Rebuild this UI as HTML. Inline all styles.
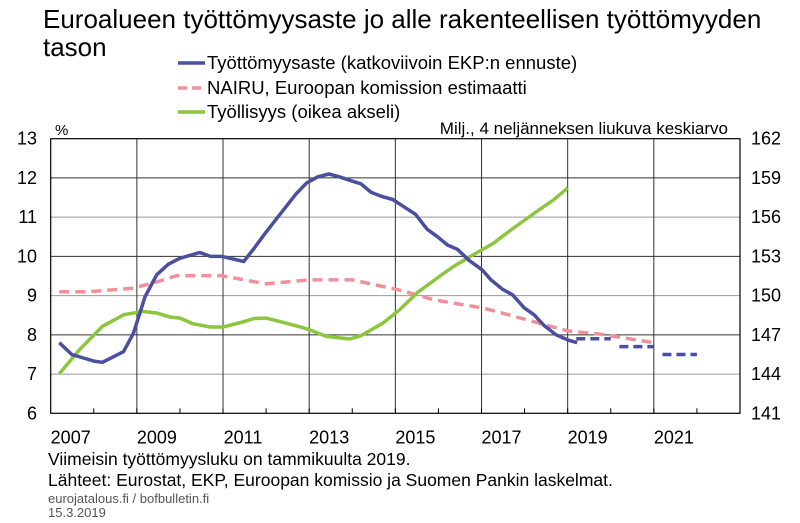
<!DOCTYPE html>
<html><head><meta charset="utf-8">
<style>
body{margin:0;background:#fff;}
svg{display:block;font-family:"Liberation Sans",Arial,sans-serif;}
</style></head>
<body>
<svg id="chart" width="800" height="523" viewBox="0 0 800 523">
<text x="43" y="28" font-size="26" fill="#000">Euroalueen työttömyysaste jo alle rakenteellisen työttömyyden</text>
<text x="43" y="56" font-size="26" fill="#000">tason</text>
<g>
<line x1="178" y1="63" x2="205" y2="63" stroke="#4a4fa0" stroke-width="3.5"/>
<text x="207" y="69" font-size="18.5">Työttömyysaste (katkoviivoin EKP:n ennuste)</text>
<line x1="178" y1="88" x2="205" y2="88" stroke="#f0909a" stroke-width="3.5" stroke-dasharray="9,5"/>
<text x="207" y="94" font-size="18.5">NAIRU, Euroopan komission estimaatti</text>
<line x1="178" y1="112" x2="205" y2="112" stroke="#8cc63f" stroke-width="3.5"/>
<text x="207" y="118" font-size="18.5">Työllisyys (oikea akseli)</text>
</g>
<text x="55" y="135" font-size="15">%</text>
<text x="728" y="134" font-size="17" text-anchor="end">Milj., 4 neljänneksen liukuva keskiarvo</text>
<g id="grid"></g>
<g id="axes"></g>
<g id="series"></g>
<text x="48" y="465" font-size="17.5">Viimeisin työttömyysluku on tammikuulta 2019.</text>
<text x="48" y="486" font-size="17.5">Lähteet: Eurostat, EKP, Euroopan komissio ja Suomen Pankin laskelmat.</text>
<text x="48" y="503" font-size="13" fill="#555">eurojatalous.fi / bofbulletin.fi</text>
<text x="48" y="517" font-size="13" fill="#555">15.3.2019</text>
</svg>
<script>
const leftTicks=[6,7,8,9,10,11,12,13];
const rightTicks=[141,144,147,150,153,156,159,162];
const yearLabels=[2007,2009,2011,2013,2015,2017,2019,2021];
const unempX=[2007.2,2007.49,2007.76,2008.0,2008.2,2008.69,2008.92,2009.19,2009.46,2009.73,2010.0,2010.46,2010.71,2010.98,2011.48,2011.72,2011.95,2012.2,2012.47,2012.7,2012.94,2013.2,2013.46,2013.7,2013.94,2014.2,2014.44,2014.71,2014.94,2015.12,2015.47,2015.74,2015.98,2016.21,2016.44,2016.71,2017.02,2017.22,2017.49,2017.72,2017.99,2018.22,2018.46,2018.73,2019.0,2019.22];
const unempY=[7.8,7.5,7.41,7.33,7.3,7.57,8.04,8.97,9.53,9.8,9.95,10.1,10.0,10.0,9.87,10.2,10.55,10.9,11.28,11.6,11.87,12.03,12.1,12.03,11.94,11.85,11.63,11.52,11.45,11.32,11.07,10.69,10.5,10.29,10.18,9.9,9.65,9.4,9.16,9.02,8.69,8.51,8.23,8.0,7.87,7.8];
const forecastStart=[2019.2,2020.2,2021.2];
const forecastEnd=[2020.0,2021.0,2022.0];
const forecastVal=[7.9,7.7,7.5];
const nairuX=[2007.2,2007.9,2008.92,2009.46,2009.93,2010.95,2012.0,2013.0,2014.0,2015.1,2015.9,2017.06,2018.2,2019.0,2019.75,2021.0];
const nairuY=[9.1,9.1,9.19,9.35,9.51,9.51,9.3,9.4,9.4,9.14,8.89,8.68,8.34,8.1,8.02,7.8];
const emplX=[2007.2,2007.67,2008.2,2008.7,2009.13,2009.46,2009.77,2010.0,2010.3,2010.7,2011.0,2011.42,2011.72,2012.0,2012.4,2012.8,2013.0,2013.4,2013.94,2014.2,2014.71,2015.1,2015.5,2016.02,2016.35,2016.74,2017.28,2017.74,2018.28,2018.67,2019.0];
const emplY=[144.03,145.87,147.65,148.54,148.79,148.67,148.36,148.28,147.85,147.6,147.6,147.95,148.25,148.28,147.95,147.6,147.39,146.88,146.68,146.93,147.9,148.92,150.2,151.46,152.23,152.99,154.01,155.16,156.43,157.32,158.24];

const L=50.7,R=740,T=138.7,B=413.3;
const x=yr=>L+(yr-2007)*(R-L)/16;
const yL=v=>B-(v-6)*(B-T)/7;
const yR=v=>B-(v-141)*(B-T)/21;
const NS='http://www.w3.org/2000/svg';
function mk(tag,attrs,parent){const e=document.createElementNS(NS,tag);for(const k in attrs)e.setAttribute(k,attrs[k]);parent.appendChild(e);return e;}
const grid=document.getElementById('grid'),axes=document.getElementById('axes'),ser=document.getElementById('series');
leftTicks.forEach((v,i)=>{
  if(v>6&&v<13){const g=mk('line',{x1:L,x2:R,y1:yL(v),y2:yL(v),stroke:(v%2?'#999':'#333'),'stroke-width':1},grid);
  
  }
  const t=mk('text',{x:37,y:yL(v)+6,'font-size':18,'text-anchor':'end'},axes);t.textContent=v;
  
  
});
rightTicks.forEach(v=>{
  const t=mk('text',{x:751,y:yR(v)+6,'font-size':18},axes);t.textContent=v;
  
  
});
yearLabels.forEach(yr=>{
  if(yr>2007){const g=mk('line',{x1:x(yr),x2:x(yr),y1:T,y2:B,stroke:'#333','stroke-width':1},grid);
  
  }
  const t=mk('text',{x:x(yr)+20,y:B+30,'font-size':18,'text-anchor':'middle'},axes);t.textContent=yr;
  
  
});
for(let yr=2008;yr<2023;yr++){mk('line',{x1:x(yr),x2:x(yr),y1:B,y2:B-5,stroke:'#000'},axes);}
const frame=mk('rect',{x:L,y:T,width:R-L,height:B-T,fill:'none',stroke:'#000','stroke-width':1.2},axes);


function path(xs,ys,yf){return xs.map((v,i)=>(i?'L':'M')+x(v).toFixed(1)+','+yf(ys[i]).toFixed(1)).join(' ');}
const nl=mk('path',{d:path(nairuX,nairuY,yL),fill:'none',stroke:'#f0909a','stroke-width':3.5,'stroke-dasharray':'10,6'},ser);


const el=mk('path',{d:path(emplX,emplY,yR),fill:'none',stroke:'#8cc63f','stroke-width':3.5},ser);


const ul=mk('path',{d:path(unempX,unempY,yL),fill:'none',stroke:'#4a4fa0','stroke-width':3.5,'stroke-linejoin':'round'},ser);


forecastVal.forEach((v,i)=>{
  const f=mk('line',{x1:x(forecastStart[i]),x2:x(forecastEnd[i]),y1:yL(v),y2:yL(v),stroke:'#4a4fa0','stroke-width':3.5,'stroke-dasharray':'9,5'},ser);
  
  
});
</script>
</body></html>
